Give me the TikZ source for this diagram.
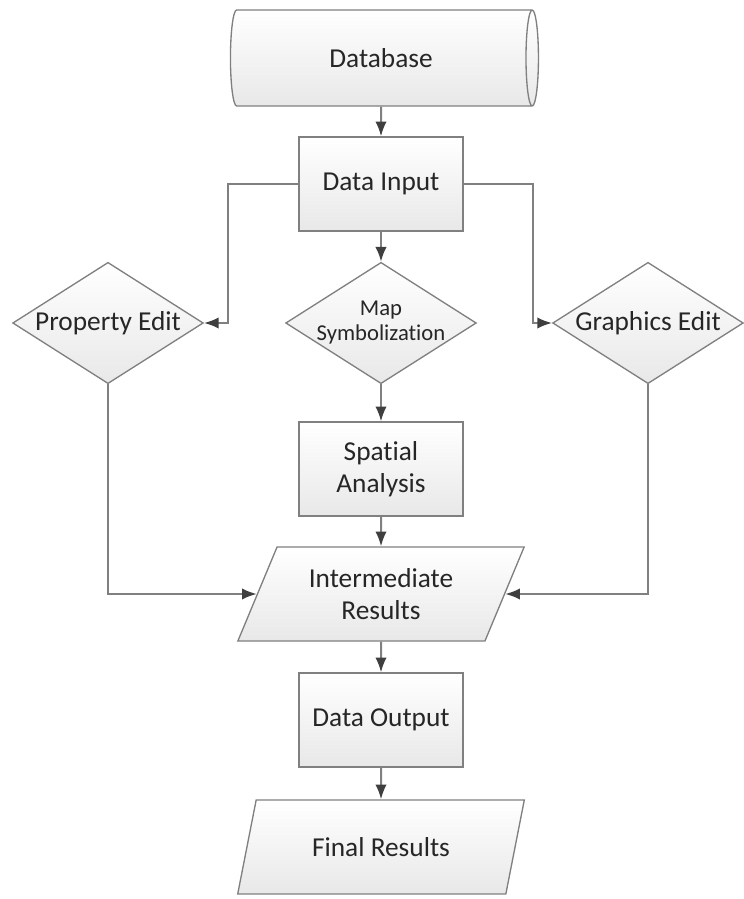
\documentclass[tikz,border=0pt]{standalone}
\usepackage{fontspec}
\setmainfont{Carlito}[Ligatures=NoCommon]
\usetikzlibrary{arrows.meta}
\usetikzlibrary{shapes.geometric}

\definecolor{edgegray}{HTML}{808080}
\definecolor{tipgray}{HTML}{3F3F3F}
\definecolor{shadegray}{HTML}{E8E8E8}

\begin{document}
\begin{tikzpicture}[auto, node distance=94.5pt, >={Latex[length=11pt,width=8.5pt,color=tipgray]}, font=\fontsize{20.5}{24}\selectfont]
    \tikzstyle{base} = [draw=edgegray, line width=1pt, top color=white, bottom color=shadegray, text=black!85, align=center, inner sep=0pt];
    \tikzstyle{block} = [base, rectangle, minimum width=123pt, minimum height=70.5pt];
    \tikzstyle{decision} = [base, diamond, shape aspect=1.57, minimum width=143pt, minimum height=91pt];
    \tikzstyle{io} = [base, trapezium, trapezium left angle=62, trapezium right angle=118, trapezium stretches=true, minimum width=215pt, minimum height=70.5pt];
    \tikzstyle{store} = [base, cylinder, shape aspect=0.65, minimum width=72pt, minimum height=231pt];
    \tikzstyle{line} = [draw=edgegray, line width=1.5pt];
    \useasboundingbox (0,0) rectangle (557.25pt,-674.25pt);
    \node [store] (db) at (285.75pt,-43.5pt) {Database};
    \node [block, below of=db] (input) {Data Input};
    \node [decision, below of=input, node distance=104.25pt, font=\fontsize{17}{18.75}\selectfont, inner sep=-6pt] (map) {Map\\Symbolization};
    \node [decision, left of=map, node distance=204.75pt] (prop) {Property Edit};
    \node [decision, right of=map, node distance=200.25pt] (graph) {Graphics Edit};
    \node [block, below of=map, node distance=109.5pt] (spatial) {Spatial\\Analysis};
    \node [io, below of=spatial, node distance=93.75pt] (inter) {Intermediate\\Results};
    \node [block, below of=inter] (output) {Data Output};
    \node [io, below of=output, node distance=95.25pt] (final) {Final Results};
    \draw [line, ->] (db) -- (input);
    \draw [line, ->] (input.west) -- ++(-52.5pt,0) |- (prop.east);
    \draw [line, ->] (input.east) -- ++(52pt,0) |- (graph.west);
    \draw [line, ->] (input) -- (map);
    \draw [line, ->] (map) -- (spatial);
    \draw [line, ->] (spatial) -- (inter);
    \draw [line, ->] (prop.south) |- (inter.west);
    \draw [line, ->] (graph.south) |- (inter.east);
    \draw [line, ->] (inter) -- (output);
    \draw [line, ->] (output) -- (final);
\end{tikzpicture}
\end{document}
